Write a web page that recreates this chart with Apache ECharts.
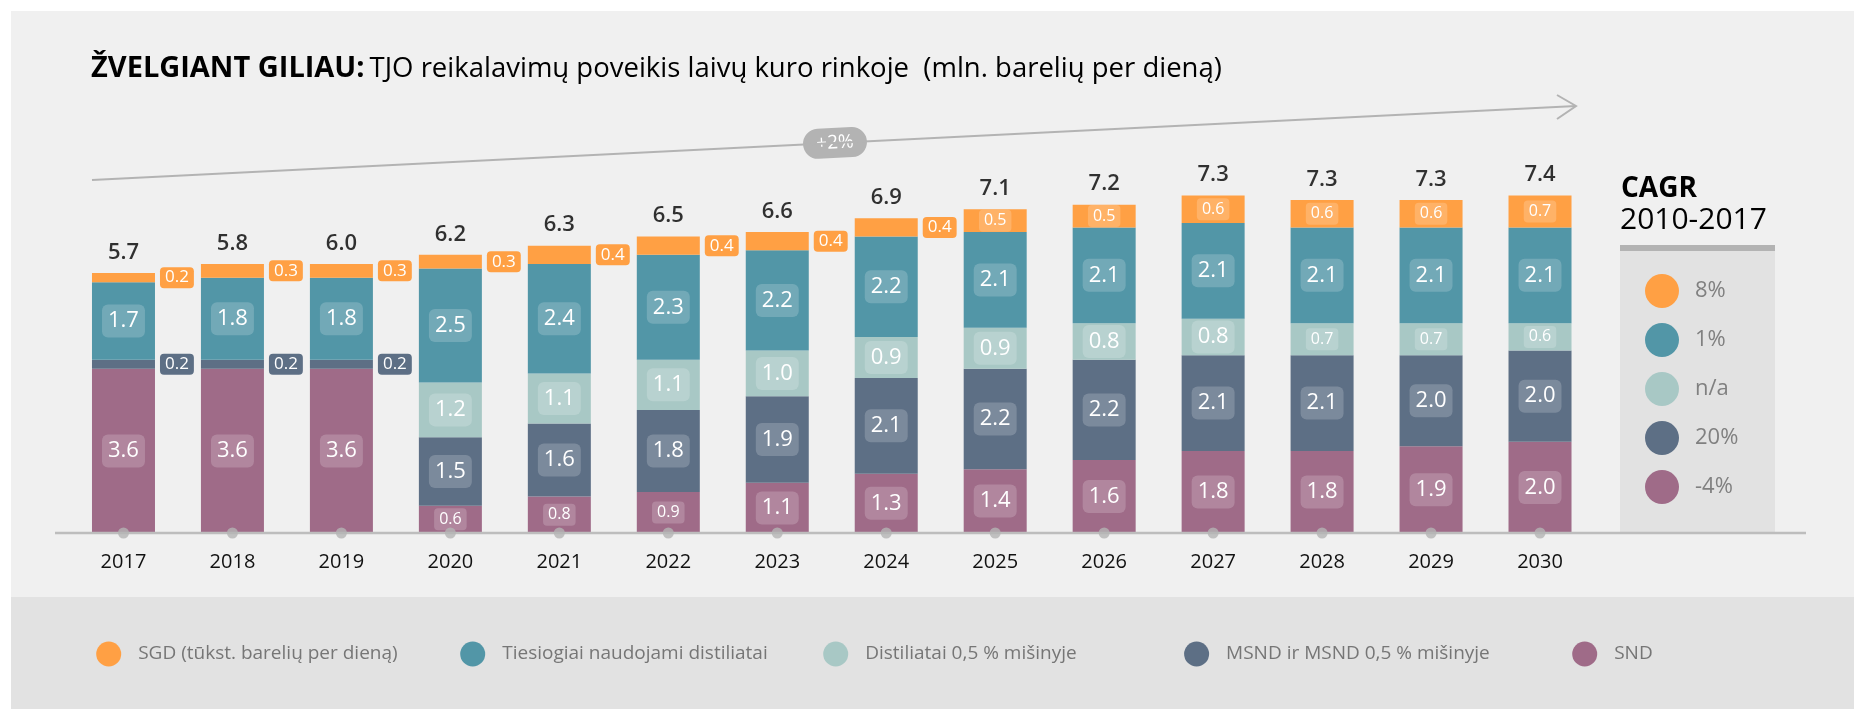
<!DOCTYPE html>
<html>
<head>
<meta charset="utf-8">
<script src="https://cdn.jsdelivr.net/npm/echarts@6/dist/echarts.min.js"></script>
<style>
html,body{margin:0;padding:0;background:#ffffff;}
#chart{width:1854px;height:709px;}
</style>
</head>
<body>
<div id="chart"></div>
<script>
// ---------- DATA ----------
const years = ['2017','2018','2019','2020','2021','2022','2023','2024','2025','2026','2027','2028','2029','2030'];
const snd    = [3.6,3.6,3.6,0.6,0.8,0.9,1.1,1.3,1.4,1.6,1.8,1.8,1.9,2.0];
const msnd   = [0.2,0.2,0.2,1.5,1.6,1.8,1.9,2.1,2.2,2.2,2.1,2.1,2.0,2.0];
const dist05 = [0,0,0,1.2,1.1,1.1,1.0,0.9,0.9,0.8,0.8,0.7,0.7,0.6];
const direct = [1.7,1.8,1.8,2.5,2.4,2.3,2.2,2.2,2.1,2.1,2.1,2.1,2.1,2.1];
const sgd    = [0.2,0.3,0.3,0.3,0.4,0.4,0.4,0.4,0.5,0.5,0.6,0.6,0.6,0.7];
const totals = [5.7,5.8,6.0,6.2,6.3,6.5,6.6,6.9,7.1,7.2,7.3,7.3,7.3,7.4];
const seriesNames = {
  sgd: 'SGD (tūkst. barelių per dieną)',
  direct: 'Tiesiogiai naudojami distiliatai',
  dist05: 'Distiliatai 0,5 % mišinyje',
  msnd: 'MSND ir MSND 0,5 % mišinyje',
  snd: 'SND'
};
const cagrOrder = ['sgd','direct','dist05','msnd','snd'];
const cagrValues = ['8%','1%','n/a','20%','-4%'];
const titleBold = 'ŽVELGIANT GILIAU:';
const titleRest = 'TJO reikalavimų poveikis laivų kuro rinkoje  (mln. barelių per dieną)';
const cagrTitle = 'CAGR';
const cagrPeriod = '2010-2017';
const trendLabel = '+2%';

// ---------- STYLE ----------
const FONT = '"Open Sans", "Noto Sans", sans-serif';
const colors = {
  sgd: '#ffa044',
  direct: '#5296a7',
  dist05: '#a8c8c5',
  msnd: '#5d6f85',
  snd: '#9f6b88'
};
const values = {snd, msnd, dist05, direct, sgd};
const stackOrder = ['snd','msnd','dist05','direct','sgd'];

function segLabel(key, v) {
  if (!v) return {show: false};
  const txt = v.toFixed(1);
  if (v < 0.45) {
    return {
      show: true, position: 'right', distance: 5, formatter: txt,
      color: '#fff', backgroundColor: colors[key], borderRadius: 4,
      padding: [2, 5, 1, 5], fontSize: 17, lineHeight: 18, fontFamily: FONT
    };
  }
  const small = v < 0.75 || (key === 'snd' && v < 1);
  return {
    show: true, position: 'inside', formatter: txt,
    color: '#fff', backgroundColor: 'rgba(255,255,255,0.19)',
    borderRadius: small ? 4 : 6,
    padding: small ? [3, 5, 2, 5] : [6, 6, 4, 6],
    fontSize: small ? 16 : 22, lineHeight: small ? 17 : 23, fontFamily: FONT
  };
}

const barSeries = stackOrder.map(key => ({
  name: seriesNames[key],
  type: 'bar',
  stack: 'total',
  barWidth: 63,
  itemStyle: {color: colors[key]},
  emphasis: {disabled: true},
  data: values[key].map(v => ({value: v, label: segLabel(key, v)}))
}));

const sums = years.map((y, i) => stackOrder.reduce((s, k) => s + values[k][i], 0));

const totalSeries = {
  type: 'scatter',
  symbol: 'circle',
  symbolSize: 1,
  itemStyle: {color: 'rgba(0,0,0,0)'},
  silent: true,
  z: 6,
  data: sums.map((s, i) => ({
    value: s,
    label: {
      show: true, position: 'top', distance: 9,
      formatter: totals[i].toFixed(1),
      color: '#000', fontSize: 22, fontWeight: 600, fontFamily: FONT
    }
  }))
};

const dotSeries = {
  type: 'scatter',
  symbol: 'circle',
  symbolSize: 11,
  itemStyle: {color: '#b4b4b4'},
  silent: true,
  z: 7,
  data: years.map(() => 0)
};

// ---------- GRAPHICS ----------
const trendStart = [92, 180], trendEnd = [1576, 106];
const ang = Math.atan2(trendEnd[1] - trendStart[1], trendEnd[0] - trendStart[0]);
const badgeX = 835;
const badgeY = trendStart[1] + (badgeX - trendStart[0]) * Math.tan(ang);

const graphics = [
  {type: 'rect', silent: true, z: -10, shape: {x: 11, y: 11, width: 1843, height: 698}, style: {fill: '#f0f0f0'}},
  {type: 'rect', silent: true, z: -9, shape: {x: 11, y: 597, width: 1843, height: 112}, style: {fill: '#e2e2e2'}},
  // CAGR panel
  {type: 'rect', silent: true, z: -8, shape: {x: 1620, y: 251, width: 155, height: 282}, style: {fill: '#e2e2e2'}},
  {type: 'rect', silent: true, z: -8, shape: {x: 1620, y: 245, width: 155, height: 6}, style: {fill: '#b3b3b3'}},
  {type: 'text', silent: true, x: 1621, y: 189, style: {text: cagrTitle, font: 'bold 28px ' + FONT, fill: '#000', verticalAlign: 'middle'}},
  {type: 'text', silent: true, x: 1620, y: 220, style: {text: cagrPeriod, font: '30px ' + FONT, fill: '#000', verticalAlign: 'middle'}},
  // axis baseline
  {type: 'line', silent: true, z: 3, shape: {x1: 55, y1: 533, x2: 1806, y2: 533}, style: {stroke: '#bdbdbd', lineWidth: 2.5}},
  // trend arrow
  {type: 'line', silent: true, z: 1, shape: {x1: trendStart[0], y1: trendStart[1], x2: trendEnd[0], y2: trendEnd[1]}, style: {stroke: '#b3b3b3', lineWidth: 2}},
  {type: 'polyline', silent: true, z: 1, shape: {points: [[1557, 95], [1576, 106], [1557, 119]]}, style: {stroke: '#b3b3b3', lineWidth: 2, fill: null}},
  {type: 'group', silent: true, x: badgeX, y: badgeY, rotation: -ang, z: 2, children: [
    {type: 'rect', shape: {x: -32, y: -15, width: 64, height: 30, r: 15}, style: {fill: '#b3b3b3'}},
    {type: 'text', x: 0, y: 0, style: {text: trendLabel, font: '19px ' + FONT, fill: '#fff', align: 'center', verticalAlign: 'middle'}}
  ]}
];
const cagrY = [291, 340, 389, 438, 487];
cagrOrder.forEach((key, i) => {
  graphics.push({type: 'circle', silent: true, shape: {cx: 1662, cy: cagrY[i], r: 17}, style: {fill: colors[key]}});
  graphics.push({type: 'text', silent: true, x: 1695, y: cagrY[i], style: {text: cagrValues[i], font: '22px ' + FONT, fill: '#808080', verticalAlign: 'middle'}});
});

// ---------- LEGENDS (bottom) ----------
const legendCenters = [108.7, 472.7, 835.7, 1196.6, 1584.7];
const legends = cagrOrder.map((key, i) => ({
  data: [seriesNames[key]],
  left: legendCenters[i] - 12.5,
  top: 641.5,
  padding: 0,
  icon: 'circle',
  itemWidth: 49,
  itemHeight: 25,
  selectedMode: false,
  textStyle: {color: '#767676', fontSize: 19, fontFamily: FONT}
}));

const chart = echarts.init(document.getElementById('chart'), null, {renderer: 'canvas'});
chart.setOption({
  animation: false,
  backgroundColor: '#ffffff',
  title: {
    text: '{b|' + titleBold + '} {r|' + titleRest + '}',
    left: 91, top: 53, padding: 0,
    textStyle: {
      fontWeight: 'normal',
      rich: {
        b: {fontSize: 29, lineHeight: 32, fontWeight: 'bold', color: '#000', fontFamily: FONT},
        r: {fontSize: 27.5, lineHeight: 32, fontWeight: 'normal', color: '#000', fontFamily: FONT}
      }
    }
  },
  legend: legends,
  grid: {left: 69, right: 259.5, top: 168.2, bottom: 176, containLabel: false},
  xAxis: {
    type: 'category', data: years,
    axisLine: {show: false}, axisTick: {show: false},
    axisLabel: {color: '#111', fontSize: 20, margin: 19, fontFamily: FONT}
  },
  yAxis: {type: 'value', min: 0, max: 8, show: false, splitLine: {show: false}},
  series: [...barSeries, totalSeries, dotSeries],
  graphic: graphics
});
</script>
</body>
</html>
